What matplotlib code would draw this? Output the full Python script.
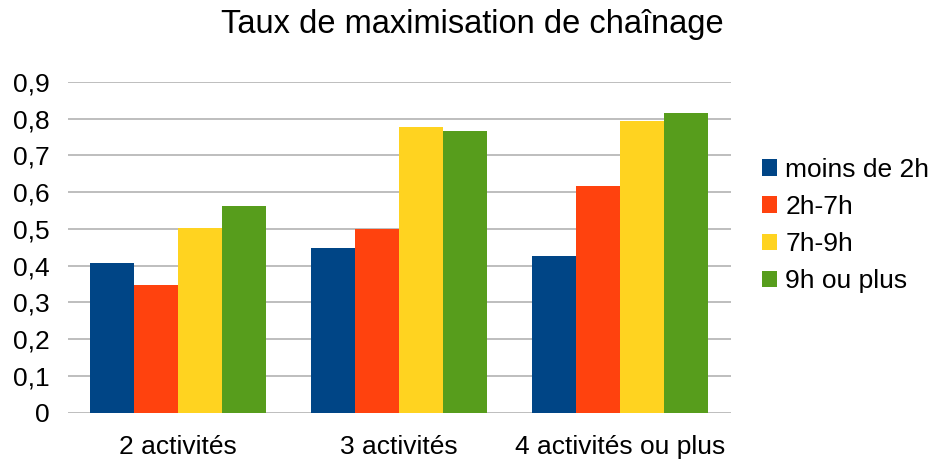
import matplotlib
matplotlib.use("Agg")
import matplotlib.pyplot as plt
import numpy as np
from matplotlib.patches import Patch

categories = ["2 activités", "3 activités", "4 activités ou plus"]
series_names = ["moins de 2h", "2h-7h", "7h-9h", "9h ou plus"]
moins_2h = [0.408, 0.448, 0.426]
h2_7 = [0.348, 0.500, 0.617]
h7_9 = [0.503, 0.777, 0.794]
h9_plus = [0.563, 0.766, 0.815]
yticks = [0, 0.1, 0.2, 0.3, 0.4, 0.5, 0.6, 0.7, 0.8, 0.9]
ytick_labels = ["0", "0,1", "0,2", "0,3", "0,4", "0,5", "0,6", "0,7", "0,8", "0,9"]
colors = ["#004586", "#ff420e", "#ffd320", "#579d1c"]

plt.rcParams['font.family'] = ['Liberation Sans', 'DejaVu Sans']

fig = plt.figure(figsize=(9.3, 4.59), dpi=100)
ax = fig.add_axes([67.5/930, 46.5/459, 663/930, 330.5/459])

series = [moins_2h, h2_7, h7_9, h9_plus]
x = np.arange(len(categories))
w = 0.2
for i, (vals, c) in enumerate(zip(series, colors)):
    ax.bar(x + (i - 1.5) * w, vals, width=w, color=c, zorder=3, label=series_names[i])

ax.set_xlim(-0.5, 2.5)
ax.set_ylim(0, 0.9)
ax.set_yticks(yticks)
ax.set_yticklabels(ytick_labels, fontsize=19)
ax.set_xticks(x)
ax.set_xticklabels(categories, fontsize=19)
ax.tick_params(axis='x', length=0, pad=16)
ax.tick_params(axis='y', length=0, pad=13)
ax.yaxis.grid(True, color="#b3b3b3", linewidth=1.2, zorder=0)
for s in ax.spines.values():
    s.set_visible(False)

fig.suptitle("Taux de maximisation de chaînage", fontsize=23.5, x=472/930, y=1 - 9/459, va='top')

handles = [Patch(facecolor=c, label=n) for c, n in zip(colors, series_names)]
fig.legend(handles=handles, loc='center left', bbox_to_anchor=(762/930, 1 - 225.5/459),
           frameon=False, fontsize=19, handlelength=0.57, handleheight=0.57,
           handletextpad=0.32, labelspacing=0.5, borderpad=0, borderaxespad=0)

fig.savefig("out.png", dpi=100)
